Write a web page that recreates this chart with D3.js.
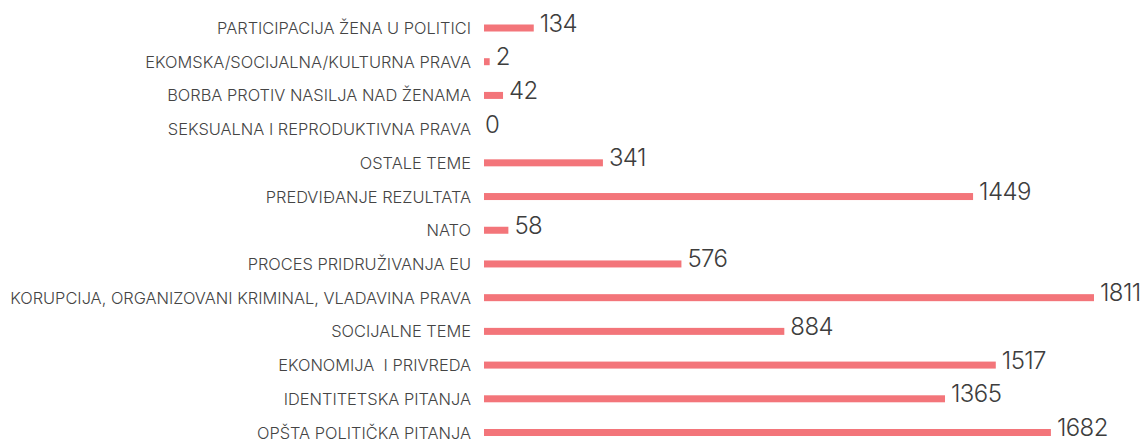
<!DOCTYPE html>
<html>
<head>
<meta charset="utf-8">
<script src="https://cdn.jsdelivr.net/npm/d3@7"></script>
<style>
  body { margin: 0; background: #fff; }
  .cat { font-family: Inter, "Noto Sans", sans-serif; font-weight: 300; font-size: 16.4px; fill: #444; }
  .val { font-family: Inter, "Noto Sans", sans-serif; font-weight: 300; font-size: 24px; letter-spacing: -0.6px; fill: #3d3d3d; }
</style>
</head>
<body>
<div id="chart"></div>
<script>
// DATA
var categories = [
  "PARTICIPACIJA ŽENA U POLITICI",
  "EKOMSKA/SOCIJALNA/KULTURNA PRAVA",
  "BORBA PROTIV NASILJA NAD ŽENAMA",
  "SEKSUALNA I REPRODUKTIVNA PRAVA",
  "OSTALE TEME",
  "PREDVIĐANJE REZULTATA",
  "NATO",
  "PROCES PRIDRUŽIVANJA EU",
  "KORUPCIJA, ORGANIZOVANI KRIMINAL, VLADAVINA PRAVA",
  "SOCIJALNE TEME",
  "EKONOMIJA  I PRIVREDA",
  "IDENTITETSKA PITANJA",
  "OPŠTA POLITIČKA PITANJA"
];
var values = [134, 2, 42, 0, 341, 1449, 58, 576, 1811, 884, 1517, 1365, 1682];

// SVG
var width = 1143;
var height = 441;
var barColor = "#f3757a";

var svg = d3.select("#chart")
  .append("svg")
  .attr("width", width)
  .attr("height", height);

var x = d3.scaleLinear()
  .domain([0, d3.max(values)])
  .range([489, 1094]);

var y = d3.scalePoint()
  .domain(categories)
  .range([28, 432.5]);

var barH = 7;
var pad = 5; // bars start a little left of zero

var rows = svg.selectAll(".row")
  .data(categories.map(function(c, i){ return {name: c, value: values[i]}; }))
  .enter()
  .append("g")
  .attr("class", "row")
  .attr("transform", function(d){ return "translate(0," + y(d.name) + ")"; });

rows.append("text")
  .attr("class", "cat")
  .attr("x", 471)
  .attr("y", 6)
  .attr("text-anchor", "end")
  .style("white-space", "pre")
  .text(function(d){ return d.name; });

rows.filter(function(d){ return d.value > 0; })
  .append("rect")
  .attr("x", x(0) - pad)
  .attr("y", -barH / 2)
  .attr("width", function(d){ return x(d.value) - x(0) + pad; })
  .attr("height", barH)
  .attr("fill", barColor);

rows.append("text")
  .attr("class", "val")
  .attr("x", function(d){ return d.value > 0 ? x(d.value) + 6 : x(0) - 4; })
  .attr("y", 3.5)
  .text(function(d){ return d.value; });
</script>
</body>
</html>
